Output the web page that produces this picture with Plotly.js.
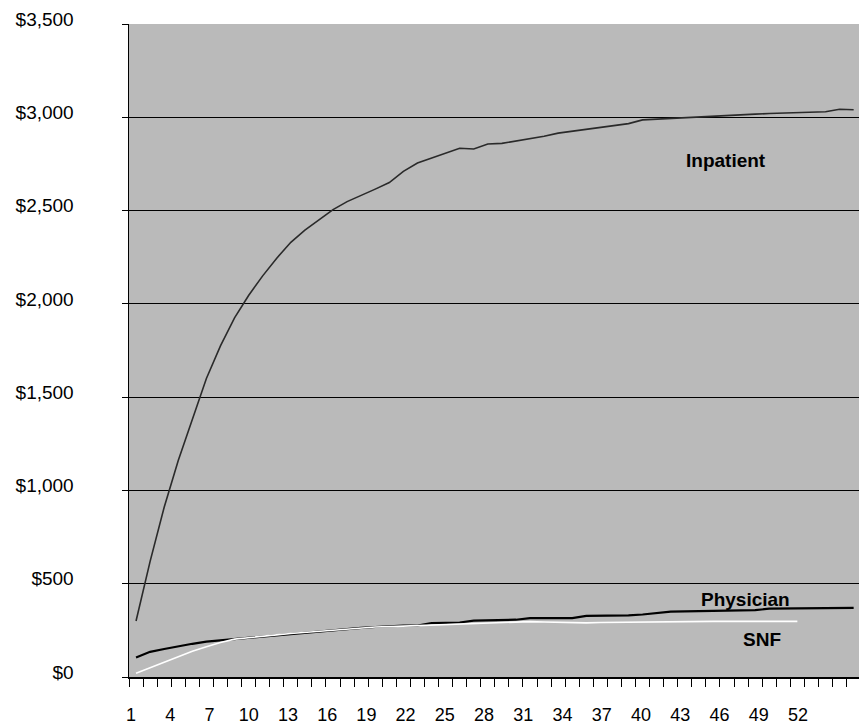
<!DOCTYPE html>
<html>
<head>
<meta charset="utf-8">
<script src="https://cdn.plot.ly/plotly-3.0.1.min.js"></script>
<style>html,body{margin:0;padding:0;background:#fff;}#chart{width:859px;height:727px;}</style>
</head>
<body>
<div id="chart"></div>
<script>
var categories = [];
for (var c = 1; c <= 52; c++) categories.push(c);

var inpatient = [300, 620, 910, 1160, 1380, 1600, 1775, 1925, 2045, 2150,
  2245, 2330, 2395, 2450, 2505, 2548, 2580, 2615, 2650, 2710,
  2755, 2780, 2805, 2834, 2830, 2857, 2860, 2872, 2885, 2898,
  2915, 2925, 2935, 2945, 2955, 2966, 2986, 2990, 2995, 3000,
  3004, 3008, 3011, 3014, 3017, 3020, 3023, 3025, 3027, 3030,
  3043, 3040];

var physician = [105, 135, 150, 165, 178, 190, 197, 203, 210, 216,
  222, 230, 237, 245, 252, 258, 263, 268, 272, 275,
  276, 289, 290, 292, 302, 304, 306, 307, 316, 316,
  316, 316, 328, 328, 330, 330, 335, 342, 350, 352,
  353, 354, 355, 356, 358, 366, 367, 368, 368, 369,
  370, 370];

var snfCategories = categories.slice(0, 48);
var snf = [20, 50, 80, 110, 138, 162, 185, 203, 212, 220,
  226, 233, 239, 246, 253, 258, 264, 268, 270, 273,
  276, 280, 283, 286, 289, 292, 295, 298, 297, 295,
  293, 291, 290, 292, 293, 295, 296, 297, 297, 298,
  298, 298, 298, 298, 298, 298, 298, 298];

var tickLabels = [1, 4, 7, 10, 13, 16, 19, 22, 25, 28, 31, 34, 37, 40, 43, 46, 49, 52];

var seriesNames = ['Inpatient', 'Physician', 'SNF'];

var traces = [
  {x: categories, y: inpatient, type: 'scatter', mode: 'lines', name: seriesNames[0],
   line: {color: '#2a2a2a', width: 1.6}, hoverinfo: 'skip'},
  {x: categories, y: physician, type: 'scatter', mode: 'lines', name: seriesNames[1],
   line: {color: '#000000', width: 2.2}, hoverinfo: 'skip'},
  {x: snfCategories, y: snf, type: 'scatter', mode: 'lines', name: seriesNames[2],
   line: {color: '#ffffff', width: 1.6}, hoverinfo: 'skip'},
  {x: [], y: [], type: 'scatter', mode: 'lines', xaxis: 'x2', yaxis: 'y',
   showlegend: false, hoverinfo: 'skip'}
];

var layout = {
  width: 859, height: 727,
  margin: {l: 129, r: 0, t: 24, b: 50},
  paper_bgcolor: '#ffffff',
  plot_bgcolor: '#bababa',
  showlegend: false,
  font: {family: 'Liberation Sans, Arial, sans-serif', color: '#000', size: 18},
  xaxis: {
    range: [0.5, 52.38],
    tickmode: 'linear', tick0: 0.5, dtick: 1,
    ticks: 'outside', ticklen: 8, tickwidth: 1, tickcolor: '#000',
    showticklabels: false,
    showgrid: false, zeroline: false,
    showline: true, linecolor: '#000', linewidth: 1.5
  },
  xaxis2: {
    overlaying: 'x', anchor: 'y', side: 'bottom',
    range: [0.847, 56.67],
    tickmode: 'array', tickvals: tickLabels, ticktext: tickLabels.map(String),
    ticks: '', showgrid: false, zeroline: false, showline: false,
    ticklabelstandoff: 25,
    tickfont: {size: 18, color: '#000'}
  },
  yaxis: {
    range: [0, 3500],
    tickmode: 'linear', tick0: 0, dtick: 500,
    tickprefix: '$', tickformat: ',d',
    ticks: 'outside', ticklen: 6, tickwidth: 1, tickcolor: '#000',
    showgrid: true, gridcolor: '#000', gridwidth: 1,
    zeroline: false,
    showline: true, linecolor: '#000', linewidth: 1.5,
    ticklabelstandoff: 44, ticklabelshift: -5,
    tickfont: {size: 19, color: '#000'}
  },
  annotations: [
    {x: 42.9, y: 2771, xref: 'x', yref: 'y', text: '<b>' + seriesNames[0] + '</b>', showarrow: false,
     font: {size: 19, color: '#000'}},
    {x: 44.3, y: 418, xref: 'x', yref: 'y', text: '<b>' + seriesNames[1] + '</b>', showarrow: false,
     font: {size: 19, color: '#000'}},
    {x: 45.5, y: 200, xref: 'x', yref: 'y', text: '<b>' + seriesNames[2] + '</b>', showarrow: false,
     font: {size: 19, color: '#000'}}
  ]
};

Plotly.newPlot('chart', traces, layout, {staticPlot: true, displayModeBar: false});
</script>
</body>
</html>
